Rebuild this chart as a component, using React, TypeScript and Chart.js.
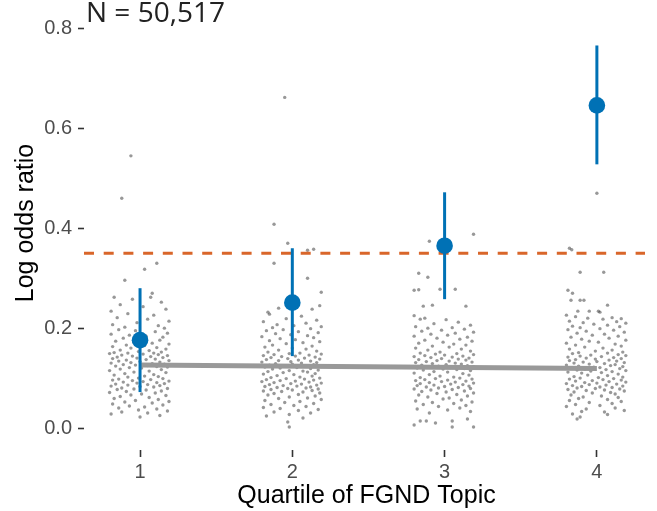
import { useEffect, useRef } from "react";
import { Chart, registerables } from "chart.js";

Chart.register(...registerables);

// ---------- data ----------
const quartiles = [1, 2, 3, 4];
const xTickLabels = ["1", "2", "3", "4"];
const yTicks = [0, 0.2, 0.4, 0.6, 0.8];
const titleText = "N = 50,517";
const xTitle = "Quartile of FGND Topic";
const yTitle = "Log odds ratio";

const estimates = [0.176, 0.251, 0.365, 0.646];
const ciLow = [0.072, 0.144, 0.258, 0.528];
const ciHigh = [0.28, 0.36, 0.472, 0.766];
const trendX = [1, 4];
const trendY = [0.126, 0.119];
const referenceLine = 0.35;

// jittered observations: [x offset from quartile, log odds ratio]
const q1Points: [number, number][] = [
  [-0.06, 0.545], [-0.12, 0.46], [0.11, 0.33], [0.03, 0.318], [-0.1, 0.296], [0.08, 0.27],
  [-0.17, 0.262], [-0.05, 0.258], [0.14, 0.252], [-0.13, 0.247], [0.02, 0.243], [0.17, 0.238], [-0.19, 0.234], [-0.08, 0.229], [0.09, 0.226], [-0.15, 0.221], [0.05, 0.218], [0.19, 0.214], [-0.02, 0.211], [-0.18, 0.207], [0.12, 0.205], [-0.1, 0.202], [0.16, 0.2], [0.07, 0.262],
  [-0.14, 0.197], [-0.03, 0.195], [0.1, 0.193], [0.18, 0.19], [-0.19, 0.188], [-0.07, 0.186], [0.04, 0.184], [0.15, 0.182], [-0.11, 0.18], [0.01, 0.178], [0.13, 0.176], [-0.16, 0.174], [-0.04, 0.172], [0.08, 0.17], [0.19, 0.168], [-0.09, 0.166], [0.03, 0.165], [-0.18, 0.163], [0.11, 0.161], [-0.06, 0.16], [0.17, 0.158], [-0.13, 0.156], [0.06, 0.155], [-0.01, 0.153], [0.14, 0.152], [-0.17, 0.151], [-0.08, 0.15], [0.09, 0.15],
  [-0.2, 0.149], [0.02, 0.148], [0.12, 0.147], [-0.12, 0.146], [0.18, 0.145], [-0.05, 0.144], [0.07, 0.143], [-0.15, 0.142], [0.15, 0.141], [-0.02, 0.14], [-0.18, 0.139], [0.1, 0.138], [0.04, 0.137], [-0.09, 0.136], [0.19, 0.135], [-0.14, 0.134], [0.0, 0.133], [0.13, 0.132], [-0.06, 0.131], [-0.19, 0.13], [0.08, 0.129], [0.16, 0.128], [-0.11, 0.127], [-0.03, 0.126], [0.05, 0.125], [-0.16, 0.124], [0.11, 0.123], [0.18, 0.122], [-0.07, 0.121], [0.01, 0.12], [-0.13, 0.118], [0.14, 0.117], [-0.2, 0.115], [0.06, 0.114], [-0.04, 0.112], [0.17, 0.111], [-0.1, 0.109], [0.09, 0.107], [-0.17, 0.106], [0.03, 0.104], [0.12, 0.103], [-0.08, 0.102], [-0.01, 0.1],
  [0.15, 0.099], [-0.14, 0.098], [0.07, 0.097], [-0.18, 0.096], [-0.05, 0.095], [0.19, 0.094], [0.02, 0.093], [-0.11, 0.092], [0.11, 0.091], [-0.02, 0.09], [0.16, 0.089], [-0.16, 0.088], [0.05, 0.087], [-0.08, 0.086], [0.13, 0.085], [-0.19, 0.084], [0.0, 0.083], [0.09, 0.082], [-0.12, 0.08], [0.18, 0.079], [-0.04, 0.078], [-0.15, 0.077], [0.04, 0.076], [0.14, 0.074], [-0.09, 0.073], [-0.2, 0.071], [0.1, 0.07], [0.01, 0.068], [-0.06, 0.066], [0.17, 0.065], [-0.13, 0.063], [0.06, 0.061], [-0.17, 0.059], [0.12, 0.057], [-0.03, 0.055], [0.19, 0.053], [-0.1, 0.052],
  [0.08, 0.05], [-0.18, 0.048], [0.15, 0.046], [-0.07, 0.044], [0.03, 0.042], [-0.14, 0.04], [0.11, 0.038], [-0.01, 0.036], [0.18, 0.034], [-0.12, 0.032], [0.05, 0.03], [-0.19, 0.028], [0.13, 0.025], [0.0, 0.022],
];

const q2Points: [number, number][] = [
  [-0.05, 0.662], [-0.12, 0.408], [-0.03, 0.37], [0.1, 0.356], [0.14, 0.358], [-0.12, 0.33], [0.1, 0.3], [0.19, 0.272], [0.18, 0.245], [-0.09, 0.24], [-0.16, 0.232], [0.13, 0.238], [0.04, 0.255],
  [-0.15, 0.228], [0.06, 0.224], [-0.04, 0.219], [0.16, 0.216], [-0.19, 0.213], [0.09, 0.21], [-0.1, 0.207], [0.01, 0.205], [0.19, 0.203], [-0.13, 0.201],
  [0.12, 0.199], [-0.06, 0.197], [-0.17, 0.195], [0.04, 0.193], [0.17, 0.191], [-0.11, 0.189], [-0.01, 0.187], [0.1, 0.185], [-0.2, 0.183], [0.14, 0.181], [-0.08, 0.179], [0.02, 0.177], [-0.15, 0.175], [0.18, 0.173], [0.07, 0.171], [-0.04, 0.169], [-0.13, 0.166], [0.13, 0.164], [-0.18, 0.162], [0.0, 0.16], [0.09, 0.158], [-0.09, 0.156], [0.16, 0.154], [-0.16, 0.152],
  [0.05, 0.15], [-0.02, 0.149], [0.19, 0.148], [-0.12, 0.147], [0.11, 0.146], [-0.19, 0.145], [0.02, 0.144], [-0.07, 0.143], [0.15, 0.142], [-0.14, 0.141], [0.08, 0.14], [-0.03, 0.139], [0.18, 0.138], [-0.17, 0.137], [0.04, 0.136], [-0.09, 0.135], [0.12, 0.134], [-0.01, 0.133], [-0.2, 0.132], [0.16, 0.131], [0.06, 0.13], [-0.11, 0.129], [0.0, 0.128], [0.14, 0.127], [-0.15, 0.126], [0.09, 0.125], [-0.05, 0.124], [0.19, 0.123], [-0.18, 0.122], [0.03, 0.121], [-0.08, 0.12], [0.12, 0.119], [-0.13, 0.118], [0.17, 0.116], [-0.02, 0.115], [0.07, 0.114], [-0.16, 0.113], [0.1, 0.112], [-0.06, 0.111], [0.15, 0.109], [-0.19, 0.108], [0.01, 0.107], [-0.1, 0.105], [0.13, 0.104], [0.05, 0.102], [-0.14, 0.101],
  [0.18, 0.1], [-0.04, 0.099], [0.08, 0.098], [-0.17, 0.097], [0.14, 0.096], [-0.08, 0.095], [0.02, 0.094], [-0.2, 0.093], [0.11, 0.092], [-0.12, 0.091], [0.19, 0.09], [-0.01, 0.089], [0.06, 0.088], [-0.15, 0.087], [0.16, 0.086], [-0.06, 0.085], [0.03, 0.084], [-0.18, 0.083], [0.12, 0.082], [-0.1, 0.081], [0.09, 0.08], [-0.03, 0.079], [0.17, 0.078], [-0.14, 0.077], [0.0, 0.076], [0.13, 0.075], [-0.19, 0.074], [-0.07, 0.073], [0.07, 0.072], [0.18, 0.07], [-0.12, 0.069], [0.04, 0.067], [-0.16, 0.066], [0.15, 0.064], [-0.02, 0.062], [0.1, 0.06], [-0.09, 0.059], [0.19, 0.057], [-0.18, 0.055], [0.05, 0.053], [-0.05, 0.051],
  [0.14, 0.049], [-0.14, 0.047], [0.01, 0.045], [0.09, 0.043], [-0.19, 0.041], [-0.08, 0.039], [0.17, 0.037], [0.04, 0.035], [-0.12, 0.032], [0.12, 0.03], [-0.02, 0.027], [-0.17, 0.024], [0.07, 0.02], [-0.03, 0.012], [-0.02, 0.002],
];

const q3Points: [number, number][] = [
  [0.19, 0.388], [-0.1, 0.374], [-0.17, 0.31], [-0.11, 0.302], [-0.2, 0.276], [-0.17, 0.277], [-0.03, 0.278], [0.07, 0.278], [-0.14, 0.244], [-0.08, 0.246], [0.14, 0.244], [-0.2, 0.225], [-0.13, 0.22],
  [-0.16, 0.218], [0.01, 0.217], [0.09, 0.212], [-0.07, 0.209], [0.17, 0.206], [-0.19, 0.203], [0.05, 0.201], [-0.11, 0.2],
  [0.13, 0.198], [-0.02, 0.196], [-0.15, 0.194], [0.19, 0.192], [0.07, 0.19], [-0.09, 0.188], [0.02, 0.186], [-0.2, 0.184], [0.15, 0.182], [-0.05, 0.18], [0.1, 0.178], [-0.13, 0.176], [0.18, 0.174], [-0.01, 0.172], [-0.17, 0.17], [0.06, 0.168], [0.14, 0.166], [-0.08, 0.164], [0.03, 0.162], [-0.19, 0.16], [0.11, 0.158], [-0.11, 0.156], [0.17, 0.154], [-0.03, 0.152],
  [-0.16, 0.15], [0.08, 0.149], [-0.06, 0.148], [0.19, 0.147], [0.0, 0.146], [-0.13, 0.145], [0.12, 0.144], [-0.2, 0.143], [0.05, 0.142], [-0.09, 0.141], [0.16, 0.14], [-0.02, 0.139], [0.09, 0.138], [-0.17, 0.137], [0.14, 0.136], [-0.05, 0.135], [0.03, 0.134], [-0.12, 0.133], [0.18, 0.132], [-0.19, 0.131], [0.07, 0.13], [-0.08, 0.129], [0.11, 0.128], [0.01, 0.127], [-0.15, 0.126], [0.15, 0.125], [-0.04, 0.124], [0.19, 0.123], [-0.11, 0.122], [0.04, 0.121], [-0.18, 0.12], [0.13, 0.119], [-0.01, 0.118], [0.08, 0.117], [-0.14, 0.116], [0.17, 0.115], [-0.07, 0.113], [0.02, 0.112], [-0.2, 0.11], [0.12, 0.109], [-0.1, 0.107], [0.16, 0.106], [-0.03, 0.104], [0.06, 0.102], [-0.16, 0.101],
  [0.1, 0.1], [-0.06, 0.099], [0.18, 0.098], [-0.13, 0.097], [0.02, 0.096], [-0.19, 0.095], [0.14, 0.094], [-0.02, 0.093], [0.07, 0.092], [-0.1, 0.091], [0.19, 0.09], [-0.16, 0.089], [0.04, 0.088], [0.12, 0.087], [-0.07, 0.086], [-0.18, 0.085], [0.16, 0.084], [0.0, 0.083], [-0.12, 0.082], [0.09, 0.081], [-0.04, 0.08], [0.17, 0.079], [-0.2, 0.078], [0.05, 0.077], [-0.09, 0.076], [0.13, 0.074], [-0.15, 0.073], [0.01, 0.072], [0.19, 0.07], [-0.05, 0.069], [0.08, 0.067], [-0.17, 0.066], [0.15, 0.064], [-0.11, 0.062], [0.03, 0.06], [-0.01, 0.058], [0.11, 0.056], [-0.19, 0.054], [0.18, 0.052], [-0.08, 0.051],
  [0.06, 0.049], [-0.14, 0.047], [0.14, 0.045], [-0.04, 0.043], [0.1, 0.04], [-0.18, 0.038], [0.02, 0.036], [0.17, 0.033], [-0.1, 0.03], [-0.2, 0.006], [-0.16, 0.014], [-0.12, 0.014], [-0.06, 0.01], [0.05, 0.014], [0.15, 0.018], [0.05, 0.002], [0.19, 0.002],
];

const q4Points: [number, number][] = [
  [0.0, 0.47], [-0.18, 0.36], [-0.165, 0.357], [-0.11, 0.312], [0.045, 0.312], [-0.19, 0.276], [-0.16, 0.27], [-0.17, 0.256], [-0.11, 0.256], [-0.085, 0.256], [-0.125, 0.234], [-0.05, 0.234], [0.01, 0.234], [0.02, 0.232], [0.07, 0.246],
  [-0.2, 0.226], [-0.14, 0.223], [-0.06, 0.22], [0.1, 0.221], [0.16, 0.219], [0.04, 0.218], [-0.18, 0.214], [0.13, 0.213], [-0.09, 0.211], [0.19, 0.21], [-0.02, 0.208], [0.07, 0.206], [-0.16, 0.204], [0.15, 0.203], [-0.11, 0.201],
  [0.02, 0.199], [-0.19, 0.197], [0.11, 0.196], [-0.07, 0.194], [0.18, 0.192], [-0.13, 0.19], [0.05, 0.188], [-0.03, 0.186], [0.14, 0.184], [-0.17, 0.182], [0.08, 0.18], [-0.1, 0.178], [0.19, 0.176], [-0.05, 0.174], [0.01, 0.172], [-0.2, 0.17], [0.12, 0.168], [-0.14, 0.166], [0.16, 0.164], [-0.08, 0.162], [0.04, 0.16], [-0.18, 0.158], [0.1, 0.156], [-0.01, 0.154], [0.17, 0.152], [-0.12, 0.151],
  [0.07, 0.15], [-0.16, 0.149], [0.14, 0.147], [-0.04, 0.146], [0.19, 0.145], [-0.11, 0.144], [0.03, 0.143], [-0.19, 0.142], [0.11, 0.141], [-0.07, 0.14], [0.16, 0.139], [-0.01, 0.138], [-0.14, 0.137], [0.08, 0.136], [-0.18, 0.135], [0.13, 0.134], [0.0, 0.133], [-0.09, 0.132], [0.18, 0.131], [-0.15, 0.13], [0.05, 0.129], [-0.05, 0.128], [0.12, 0.127], [-0.2, 0.126], [0.09, 0.125], [-0.12, 0.124], [0.17, 0.123], [-0.02, 0.122], [0.02, 0.121], [-0.17, 0.12], [0.15, 0.119], [-0.08, 0.118], [0.06, 0.117], [-0.13, 0.116], [0.19, 0.115], [-0.04, 0.114], [0.1, 0.113], [-0.19, 0.112], [0.03, 0.111], [-0.1, 0.11], [0.14, 0.108], [-0.06, 0.106], [0.07, 0.105], [-0.15, 0.103], [0.17, 0.102], [0.01, 0.101],
  [-0.11, 0.1], [0.11, 0.099], [-0.18, 0.098], [0.04, 0.097], [0.16, 0.096], [-0.03, 0.095], [-0.14, 0.094], [0.08, 0.093], [0.19, 0.092], [-0.08, 0.091], [0.0, 0.09], [-0.2, 0.089], [0.13, 0.088], [-0.05, 0.087], [0.06, 0.086], [-0.16, 0.085], [0.17, 0.084], [-0.1, 0.083], [0.02, 0.082], [0.1, 0.081], [-0.13, 0.08], [-0.01, 0.079], [0.15, 0.078], [-0.19, 0.077], [0.05, 0.076], [-0.07, 0.075], [0.18, 0.074], [-0.15, 0.072], [0.09, 0.071], [-0.03, 0.07], [0.12, 0.068], [-0.17, 0.066], [0.03, 0.064], [-0.09, 0.062], [0.14, 0.061], [-0.12, 0.059], [0.07, 0.057], [-0.18, 0.055], [0.16, 0.053], [-0.05, 0.051],
  [0.1, 0.049], [-0.14, 0.047], [0.02, 0.045], [-0.2, 0.043], [0.12, 0.04], [-0.07, 0.038], [0.18, 0.035], [-0.1, 0.033], [0.05, 0.032], [0.07, 0.027], [-0.16, 0.028], [-0.13, 0.018], [-0.11, 0.022],
];

const jitterGroups = [q1Points, q2Points, q3Points, q4Points];

// ---------- style ----------
const X_MIN = 0.632;
const X_MAX = 4.316;
const Y_MIN = -0.044;
const Y_MAX = 0.805;
const BLUE = "#0071B5";
const ORANGE = "#D9662A";
const TICK_FONT = { family: "'Liberation Sans', Arial, sans-serif", size: 20 };

const textPlugin = {
  id: "textPlugin",
  afterDraw(chart: any) {
    const { ctx, chartArea } = chart;
    ctx.save();
    ctx.fillStyle = "#222";
    ctx.font = "28px 'Open Sans', sans-serif";
    ctx.textAlign = "left";
    ctx.textBaseline = "alphabetic";
    ctx.fillText(titleText, 86, 22);

    ctx.fillStyle = "#000";
    ctx.font = "25px 'Liberation Sans', Arial, sans-serif";
    ctx.textAlign = "center";
    ctx.fillText(xTitle, (chartArea.left + chartArea.right) / 2 + 2, 503);

    ctx.translate(33, 223);
    ctx.rotate(-Math.PI / 2);
    ctx.fillText(yTitle, 0, 0);
    ctx.restore();
  },
};

export default function App() {
  const ref = useRef<HTMLCanvasElement | null>(null);

  useEffect(() => {
    document.body.style.margin = "0";
    if (!ref.current) return;

    const jitterData = jitterGroups.flatMap((pts, i) =>
      pts.map(([dx, y]) => ({ x: quartiles[i] + dx, y }))
    );

    const errorBars = quartiles.map((q, i) => ({
      type: "line" as const,
      data: [
        { x: q, y: ciLow[i] },
        { x: q, y: ciHigh[i] },
      ],
      showLine: true,
      borderColor: BLUE,
      borderWidth: 3,
      pointRadius: 0,
      order: 2,
    }));

    const chart = new Chart(ref.current, {
      type: "scatter",
      data: {
        datasets: [
          {
            data: jitterData,
            pointRadius: 1.7,
            pointBackgroundColor: "rgba(50,50,50,0.5)",
            pointBorderWidth: 0,
            order: 5,
          } as any,
          {
            type: "line",
            data: trendX.map((x, i) => ({ x, y: trendY[i] })),
            showLine: true,
            borderColor: "#999999",
            borderWidth: 5,
            pointRadius: 0,
            order: 4,
          },
          {
            type: "line",
            data: [
              { x: X_MIN, y: referenceLine },
              { x: X_MAX, y: referenceLine },
            ],
            showLine: true,
            borderColor: ORANGE,
            borderWidth: 3,
            borderDash: [10, 9.7],
            pointRadius: 0,
            order: 3,
          },
          ...errorBars,
          {
            data: quartiles.map((q, i) => ({ x: q, y: estimates[i] })),
            pointRadius: 8.3,
            pointBackgroundColor: BLUE,
            pointBorderWidth: 0,
            order: 1,
          } as any,
        ],
      },
      options: {
        animation: false,
        responsive: false,
        devicePixelRatio: 1,
        layout: { padding: { top: 26, right: 12, left: 0, bottom: 0 } },
        plugins: {
          legend: { display: false },
          tooltip: { enabled: false },
        },
        scales: {
          x: {
            type: "linear",
            min: X_MIN,
            max: X_MAX,
            afterBuildTicks: (scale: any) => {
              scale.ticks = quartiles.map((v) => ({ value: v }));
            },
            afterFit: (scale: any) => {
              scale.height = 61;
            },
            ticks: {
              callback: (v: any) => xTickLabels[quartiles.indexOf(Number(v))] ?? "",
              font: TICK_FONT,
              color: "#4d4d4d",
              padding: 3,
              maxRotation: 0,
            },
            grid: {
              drawOnChartArea: false,
              drawTicks: true,
              tickLength: 7,
              tickColor: "#333",
              tickWidth: 1.6,
            },
            border: { display: false },
          },
          y: {
            type: "linear",
            min: Y_MIN,
            max: Y_MAX,
            afterBuildTicks: (scale: any) => {
              scale.ticks = yTicks.map((v) => ({ value: v }));
            },
            afterFit: (scale: any) => {
              scale.width = 84;
            },
            ticks: {
              callback: (v: any) => Number(v).toFixed(1),
              font: TICK_FONT,
              color: "#4d4d4d",
              padding: 6,
            },
            grid: {
              drawOnChartArea: false,
              drawTicks: true,
              tickLength: 6,
              tickColor: "#333",
              tickWidth: 1.6,
            },
            border: { display: false },
          },
        },
      },
      plugins: [textPlugin],
    });

    return () => chart.destroy();
  }, []);

  return (
    <div style={{ width: 657, height: 511 }}>
      <canvas ref={ref} width={657} height={511} style={{ width: 657, height: 511, display: "block" }} />
    </div>
  );
}
